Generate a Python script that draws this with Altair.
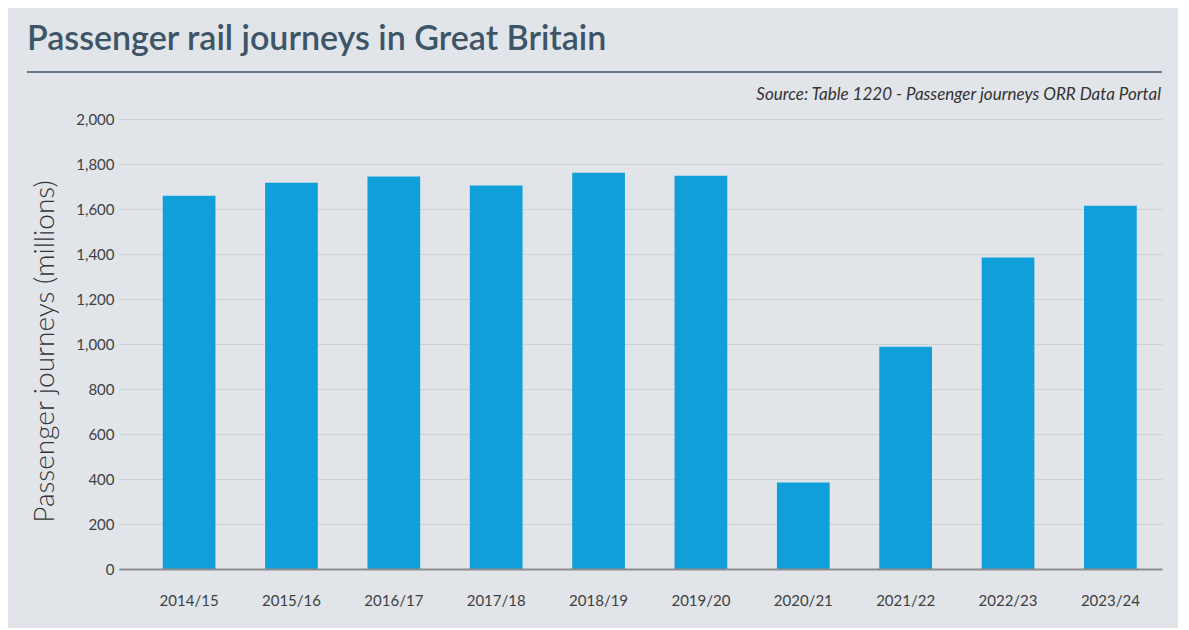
import altair as alt
import pandas as pd

years = ["2014/15", "2015/16", "2016/17", "2017/18", "2018/19",
         "2019/20", "2020/21", "2021/22", "2022/23", "2023/24"]
journeys = [1659, 1717, 1744, 1704, 1761, 1748, 384, 988, 1384, 1615]
y_ticks = [0, 200, 400, 600, 800, 1000, 1200, 1400, 1600, 1800, 2000]
title_text = ["Passenger rail journeys in Great Britain"]
source_text = ["Source: Table 1220 - Passenger journeys ORR Data Portal"]
y_title = "Passenger journeys (millions)"

df = pd.DataFrame({"year": years, "journeys": journeys})

W, H = 1043, 450
FONT = "Lato"

bars = alt.Chart(df).mark_bar(color="#119FDA").encode(
    x=alt.X(
        "year:N", sort=years, title=None,
        scale=alt.Scale(paddingInner=0.485, paddingOuter=0.337, align=0.634),
        axis=alt.Axis(labelAngle=0, ticks=False, domain=True, domainColor="#8C8C8C",
                      domainWidth=2, labelPadding=24, labelFontSize=15,
                      labelColor="#404040", labelFont=FONT, grid=False, zindex=1),
    ),
    y=alt.Y(
        "journeys:Q", title=y_title,
        scale=alt.Scale(domain=[0, 2000], nice=False),
        axis=alt.Axis(values=y_ticks, format=",.0f", domain=False, ticks=False,
                      labelPadding=5, labelFontSize=15, labelColor="#404040",
                      labelFont=FONT, gridColor="#CDD1D6", gridWidth=1,
                      titleX=-74, titleY=232, titleAngle=270, titleAlign="center",
                      titleBaseline="middle", titleFont=FONT, titleFontSize=28,
                      titleFontWeight=300, titleColor="#333333"),
    ),
)

title = alt.Chart(pd.DataFrame({"t": title_text})).mark_text(
    align="left", baseline="alphabetic", font=FONT, fontSize=34,
    fontWeight=600, color="#3E5568",
).encode(x=alt.value(-92), y=alt.value(-69), text="t:N")

rule = alt.Chart(pd.DataFrame({"t": title_text})).mark_rule(
    color="#3E5568", strokeWidth=1.5
).encode(x=alt.value(-92), x2=alt.value(W), y=alt.value(-47))

source = alt.Chart(pd.DataFrame({"s": source_text})).mark_text(
    align="right", baseline="alphabetic", font=FONT, fontSize=17,
    fontStyle="italic", color="#333333",
).encode(x=alt.value(W - 1), y=alt.value(-19), text="s:N")

chart = alt.layer(bars, rule, title, source).properties(
    width=W, height=H,
    autosize=alt.AutoSizeParams(type="none"),
    padding={"left": 111, "top": 111, "right": 16, "bottom": 59},
    background="#E1E5EA",
).configure_view(stroke=None)

chart.save("out.html", embed_options={"renderer": "svg", "actions": False})
